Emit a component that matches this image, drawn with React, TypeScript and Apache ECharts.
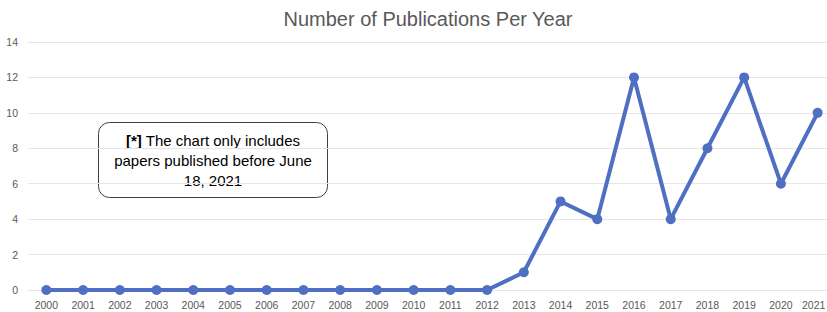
import React, { useEffect, useRef } from "react";
import * as echarts from "echarts";

const years = ["2000","2001","2002","2003","2004","2005","2006","2007","2008","2009","2010","2011","2012","2013","2014","2015","2016","2017","2018","2019","2020","2021"];
const publications = [0,0,0,0,0,0,0,0,0,0,0,0,0,1,5,4,12,4,8,12,6,10];
const titleText = "Number of Publications Per Year";
const noteLines = ["{b|[*]} The chart only includes", "papers published before June", "18, 2021"];

export default function App() {
  const ref = useRef<HTMLDivElement>(null);
  useEffect(() => {
    if (!ref.current) return;
    const chart = echarts.init(ref.current, null, { renderer: "svg" });
    const font = "'Liberation Sans', Arial, sans-serif";
    const lastYear = years[years.length - 1];
    chart.setOption({
      animation: false,
      backgroundColor: "#ffffff",
      title: {
        text: titleText,
        left: 423,
        top: 4,
        textAlign: "center",
        textStyle: { fontFamily: font, fontSize: 20, fontWeight: "normal", color: "#595959" },
      },
      grid: { left: 28, right: 0, top: 42, bottom: 22, containLabel: false },
      xAxis: {
        type: "category",
        data: years,
        boundaryGap: true,
        axisLine: { show: false },
        axisTick: { show: false },
        axisLabel: {
          fontFamily: font,
          fontSize: 10.5,
          color: "#595959",
          margin: 9,
          interval: 0,
          formatter: (v: string) => (v === lastYear ? `{last|${v}}` : v),
          rich: {
            last: { fontFamily: font, fontSize: 10.5, color: "#595959", padding: [0, 8, 0, 0] },
          },
        },
      },
      yAxis: {
        type: "value",
        min: 0,
        max: 14,
        interval: 2,
        axisLine: { show: false },
        axisTick: { show: false },
        splitLine: { lineStyle: { color: "#e6e6e6", width: 1 } },
        axisLabel: { fontFamily: font, fontSize: 10.5, color: "#595959", margin: 10 },
      },
      series: [
        {
          type: "line",
          data: publications,
          symbol: "circle",
          symbolSize: 10,
          lineStyle: { color: "#4f6fc2", width: 4 },
          itemStyle: { color: "#4f6fc2" },
          clip: false,
        },
      ],
      graphic: [
        {
          type: "group",
          left: 98,
          top: 122,
          children: [
            {
              type: "rect",
              shape: { x: 0, y: 0, width: 229, height: 75, r: 11 },
              style: { fill: "#ffffff", stroke: "#404040", lineWidth: 1 },
            },
            {
              type: "text",
              x: 114.5,
              y: 37.5,
              style: {
                text: noteLines.join("\n"),
                align: "center",
                verticalAlign: "middle",
                fontFamily: font,
                fontSize: 15,
                lineHeight: 20,
                fill: "#000000",
                rich: {
                  b: { fontFamily: font, fontSize: 15, fontWeight: "bold", fill: "#000000", lineHeight: 20 },
                },
              },
            },
          ],
        },
      ],
    });
    return () => chart.dispose();
  }, []);
  return (
    <div style={{ width: 827, height: 312, position: "absolute", left: 0, top: 0, overflow: "hidden", background: "#ffffff" }}>
      <div ref={ref} style={{ width: 836, height: 312 }} />
    </div>
  );
}
